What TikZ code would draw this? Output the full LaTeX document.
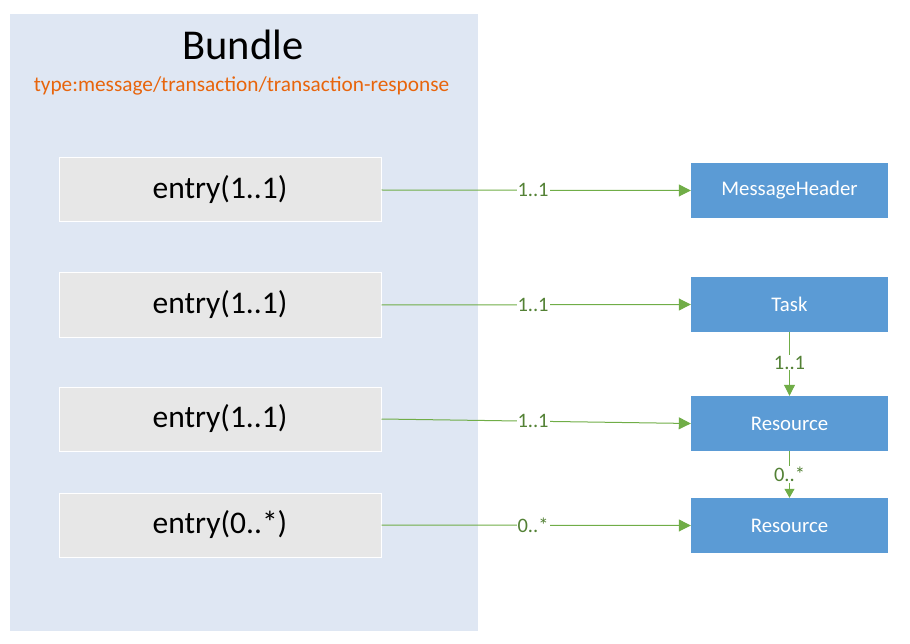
\documentclass[tikz,border=0pt]{standalone}
\usepackage{fontspec}
\setmainfont{Carlito}
\usetikzlibrary{arrows.meta}
\definecolor{panelblue}{HTML}{DFE7F3}
\definecolor{entrygray}{HTML}{E7E7E7}
\definecolor{boxblue}{HTML}{5B9BD5}
\definecolor{linegreen}{HTML}{70AD47}
\definecolor{labelgreen}{HTML}{538135}
\definecolor{typeorange}{HTML}{E8650C}
\tikzset{
  panel/.style={fill=panelblue, draw=none, minimum width=468pt, minimum height=617pt, inner sep=0pt},
  entrybox/.style={fill=entrygray, draw=white, line width=1pt, minimum width=322pt, minimum height=64pt, inner sep=0pt, font=\fontsize{31.5}{36}\selectfont},
  resbox/.style={fill=boxblue, draw=none, minimum width=197pt, minimum height=55pt, inner sep=0pt, text=white, font=\fontsize{20.8}{24}\selectfont},
  conn/.style={draw=linegreen, line width=1pt, -{Triangle[length=12pt,width=12pt]}},
  vconn/.style={draw=linegreen, line width=1pt, -{Triangle[length=11pt,width=11pt]}},
  mult/.style={fill=white, text=labelgreen, inner sep=1pt, font=\fontsize{20.5}{24}\selectfont}
}
\begin{document}
\begin{tikzpicture}[x=1pt,y=-1pt]
\useasboundingbox (0,0) rectangle (910,644);
\node[panel] (bundle) at (244,322.5) {};
\node[font=\fontsize{42.5}{48}\selectfont, inner sep=0pt] (title) at (243,45) {Bundle};
\node[font=\fontsize{21.3}{25}\selectfont, text=typeorange, inner sep=0pt] (type) at (241.5,86) {type:message/transaction/transaction-response};

\node[entrybox] (e1) at (220,190) {entry(1..1)};
\node[entrybox] (e2) at (220,305) {entry(1..1)};
\node[entrybox] (e3) at (220,419) {entry(1..1)};
\node[entrybox] (e4) at (220,525) {entry(0..*)};

\node[resbox] (mh) at (789.5,190.5) {MessageHeader};
\node[resbox] (task) at (789.5,304.5) {Task};
\node[resbox] (r1) at (789.5,423.5) {Resource};
\node[resbox] (r2) at (789.5,525.5) {Resource};

\draw[conn] (e1.east) -- node[mult, pos=0.49] {1..1} (mh.west);
\draw[conn] (e2.east) -- node[mult, pos=0.49] {1..1} (task.west);
\draw[conn] (e3.east) -- node[mult, pos=0.49] {1..1} (r1.west);
\draw[conn] (e4.east) -- node[mult, pos=0.49] {0..*} (r2.west);
\draw[vconn] (task.south) -- node[mult, pos=0.48] {1..1} (r1.north);
\draw[vconn, -{Triangle[length=9pt,width=10pt]}] (r1.south) -- node[mult, pos=0.5] {0..*} (r2.north);
\end{tikzpicture}
\end{document}
